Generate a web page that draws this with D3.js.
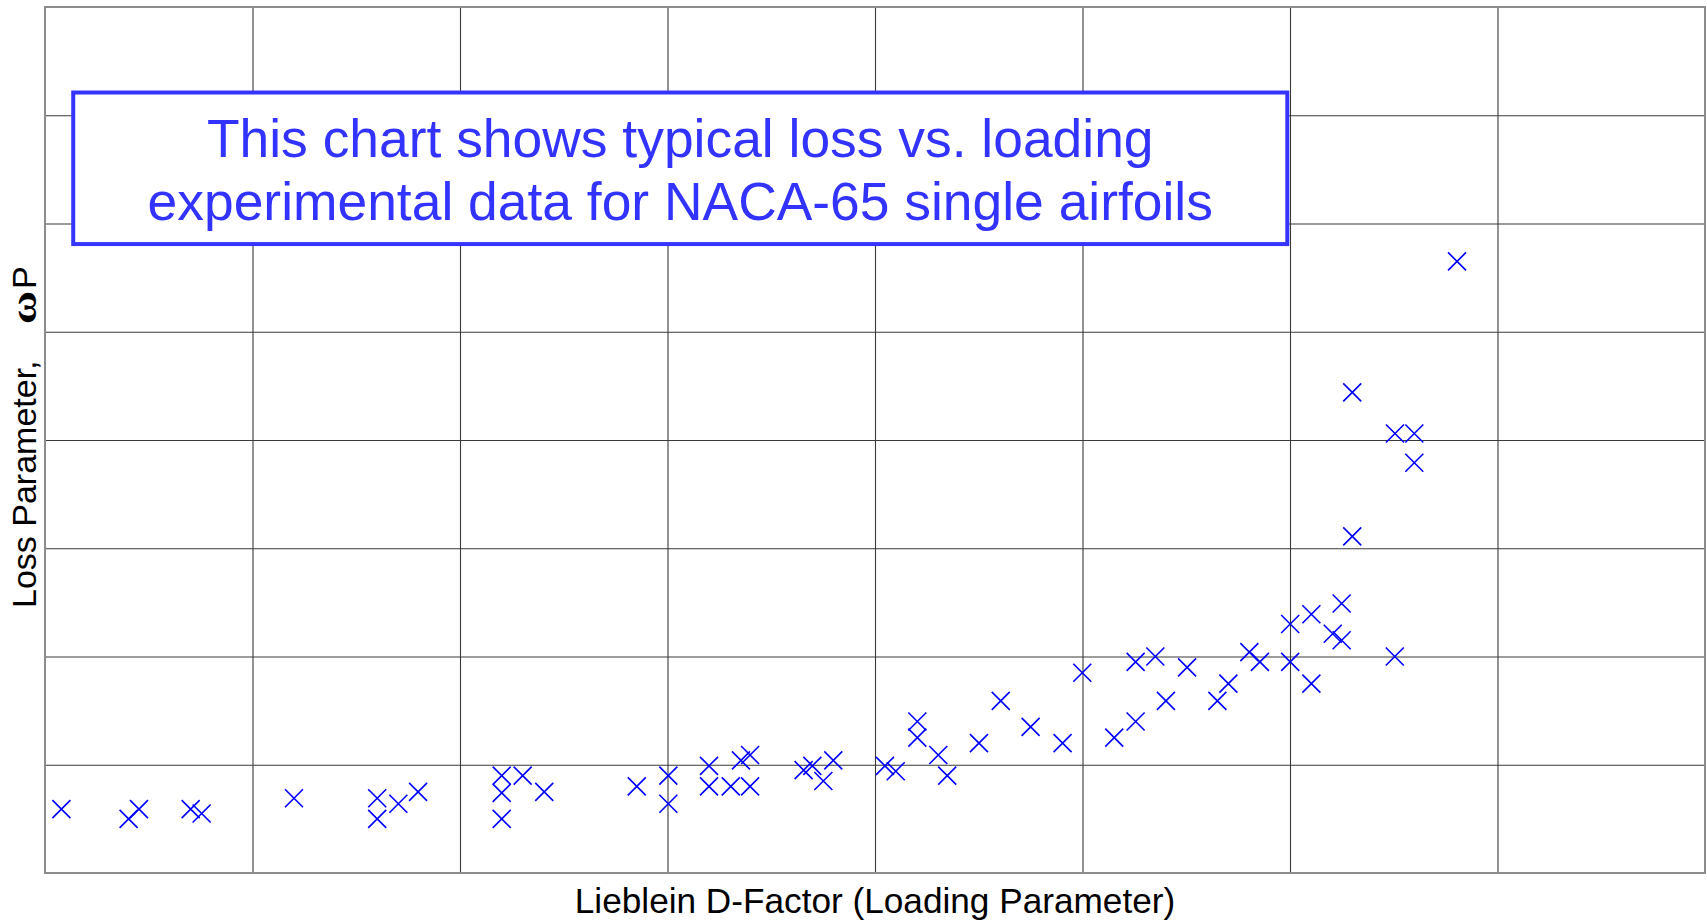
<!DOCTYPE html>
<html>
<head>
<meta charset="utf-8">
<script src="https://cdn.jsdelivr.net/npm/d3@7"></script>
<style>
  html, body { margin: 0; padding: 0; background: #fff; overflow: hidden; }
  svg { display: block; }
</style>
</head>
<body>
<svg id="chart" width="1707" height="921"></svg>
<script>
// Lieblein D-Factor (x) and loss parameter (y)
const dFactor = [
  0.0079, 0.0403, 0.0453, 0.0702, 0.0755, 0.1200, 0.1601, 0.1601, 0.1703, 0.1798,
  0.2201, 0.2201, 0.2201, 0.2302, 0.2406, 0.2852, 0.3004, 0.3004, 0.3200, 0.3200,
  0.3305, 0.3398, 0.3354, 0.3398, 0.3656, 0.3698, 0.3751, 0.3799, 0.4048, 0.4100,
  0.4204, 0.4204, 0.4305, 0.4348, 0.4501, 0.4606, 0.4750, 0.4904, 0.4999, 0.5153,
  0.5256, 0.5256, 0.5351, 0.5402, 0.5504, 0.5650, 0.5703, 0.5804, 0.5855, 0.6001,
  0.6001, 0.6103, 0.6103, 0.6206, 0.6249, 0.6249, 0.6805, 0.6300, 0.6506, 0.6599,
  0.6599, 0.6300, 0.6505
];
const lossParam = [
  0.0059, 0.0050, 0.0059, 0.0059, 0.0055, 0.0069, 0.0069, 0.0050, 0.0064, 0.0075,
  0.0090, 0.0074, 0.0050, 0.0090, 0.0075, 0.0080, 0.0090, 0.0064, 0.0099, 0.0080,
  0.0080, 0.0080, 0.0104, 0.0109, 0.0095, 0.0099, 0.0085, 0.0104, 0.0099, 0.0094,
  0.0140, 0.0125, 0.0109, 0.0090, 0.0120, 0.0159, 0.0135, 0.0120, 0.0185, 0.0125,
  0.0140, 0.0195, 0.0200, 0.0159, 0.0190, 0.0159, 0.0175, 0.0204, 0.0195, 0.0230,
  0.0195, 0.0239, 0.0175, 0.0221, 0.0215, 0.0249, 0.0565, 0.0444, 0.0406, 0.0406,
  0.0379, 0.0311, 0.0200
];
const xTicks = [0, 0.1, 0.2, 0.3, 0.4, 0.5, 0.6, 0.7, 0.8];
const yTicks = [0, 0.01, 0.02, 0.03, 0.04, 0.05, 0.06, 0.07, 0.08];
const noteLines = [
  "This chart shows typical loss vs. loading",
  "experimental data for NACA-65 single airfoils"
];
const xTitle = "Lieblein D-Factor (Loading Parameter)";
const yTitle = "Loss Parameter,";
const yTitleSymbol = "\u03C9";
const yTitleTail = "P";

const svg = d3.select("#chart");
const margin = { left: 45, right: 2, top: 7, bottom: 48 };
const W = 1707, H = 921;
const x = d3.scaleLinear().domain([0, 0.8]).range([margin.left, W - margin.right]);
const y = d3.scaleLinear().domain([0, 0.08]).range([H - margin.bottom, margin.top]);

// grid via axes
const gx = svg.append("g")
  .attr("transform", `translate(0,${y(0)})`)
  .call(d3.axisBottom(x).tickValues(xTicks.slice(1, -1)).tickSize(-(y(0) - y(0.08))).tickFormat(""));
const gy = svg.append("g")
  .attr("transform", `translate(${x(0)},0)`)
  .call(d3.axisLeft(y).tickValues(yTicks.slice(1, -1)).tickSize(-(x(0.8) - x(0))).tickFormat(""));
[gx, gy].forEach(g => {
  g.select(".domain").remove();
  g.selectAll(".tick line").attr("stroke", "#3a3a3a").attr("stroke-width", 1.1);
});

// plot border
svg.append("rect")
  .attr("x", x(0)).attr("y", y(0.08))
  .attr("width", x(0.8) - x(0)).attr("height", y(0) - y(0.08))
  .attr("fill", "none").attr("stroke", "#8c8c8c").attr("stroke-width", 2);

// markers
const pts = dFactor.map((d, i) => [d, lossParam[i]]);
const r = 9;
svg.append("g").selectAll("path").data(pts).join("path")
  .attr("d", d => {
    const cx = x(d[0]), cy = y(d[1]);
    return `M${cx - r},${cy - r}L${cx + r},${cy + r}M${cx - r},${cy + r}L${cx + r},${cy - r}`;
  })
  .attr("fill", "none").attr("stroke", "#0000ff").attr("stroke-width", 1.6);

// annotation box
const box = { x0: 0.0136, x1: 0.5987, y0: 0.0721, y1: 0.0581 };
svg.append("rect")
  .attr("x", x(box.x0)).attr("y", y(box.y0))
  .attr("width", x(box.x1) - x(box.x0)).attr("height", y(box.y1) - y(box.y0))
  .attr("fill", "#fff").attr("stroke", "#3535ff").attr("stroke-width", 4);
const cxBox = (x(box.x0) + x(box.x1)) / 2;
svg.append("g").selectAll("text").data(noteLines).join("text")
  .attr("x", cxBox)
  .attr("y", (d, i) => 157 + i * 63)
  .attr("text-anchor", "middle")
  .attr("font-family", "'Liberation Sans', Arial, sans-serif")
  .attr("font-size", 53.4)
  .attr("fill", "#3333ff")
  .text(d => d);

// axis titles
svg.append("text")
  .attr("x", (x(0) + x(0.8)) / 2).attr("y", 913)
  .attr("text-anchor", "middle")
  .attr("font-family", "'Liberation Sans', Arial, sans-serif")
  .attr("font-size", 35.2).attr("fill", "#000")
  .text(xTitle);

const yt = svg.append("text")
  .attr("transform", "translate(36,608) rotate(-90)")
  .attr("text-anchor", "start")
  .attr("font-family", "'Liberation Sans', Arial, sans-serif")
  .attr("font-size", 34).attr("fill", "#000");
yt.append("tspan").attr("x", 0).text(yTitle);
yt.append("tspan").attr("x", 284)
  .attr("font-family", "'Liberation Serif', serif").attr("font-weight", "bold")
  .attr("font-size", 36)
  .attr("textLength", 33).attr("lengthAdjust", "spacingAndGlyphs")
  .text(yTitleSymbol);
yt.append("tspan").attr("x", 319).text(yTitleTail);
</script>
</body>
</html>
